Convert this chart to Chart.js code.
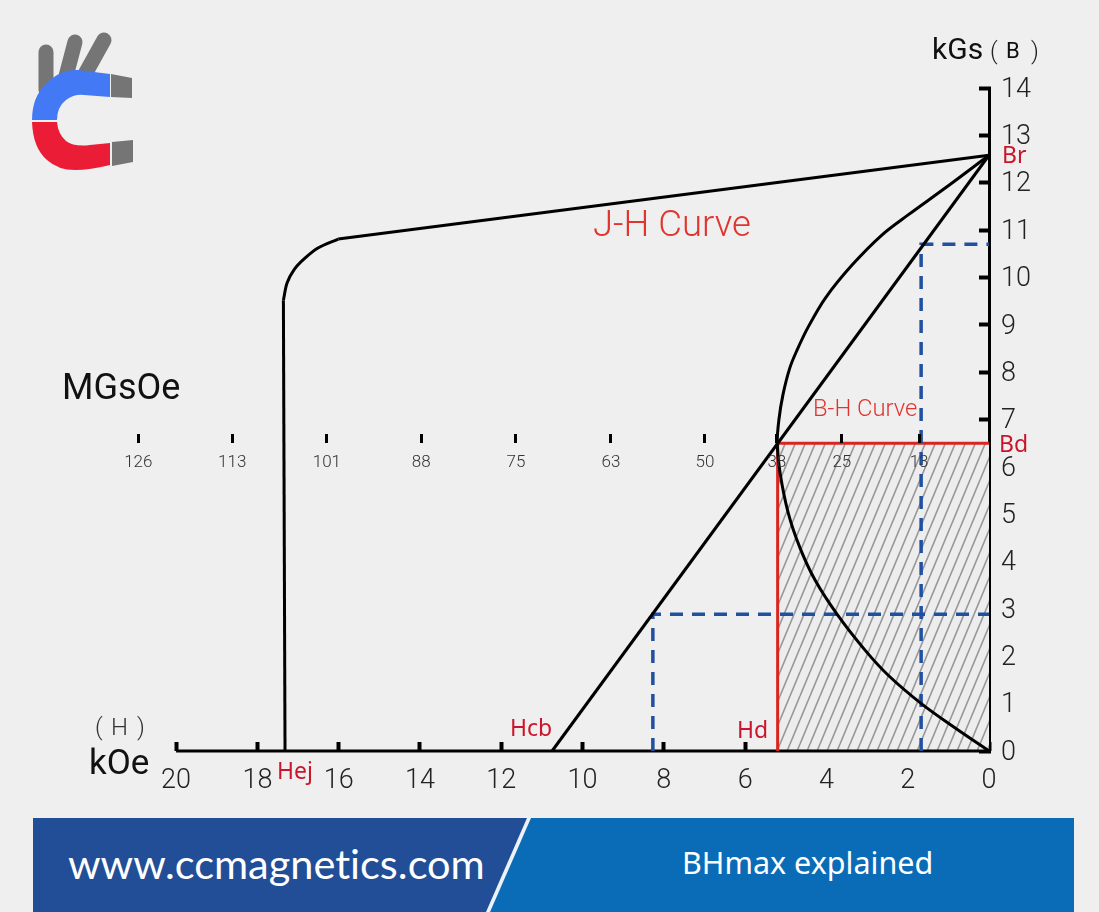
<!DOCTYPE html>
<html>
<head>
<meta charset="utf-8">
<title>BHmax explained</title>
<script src="https://cdn.jsdelivr.net/npm/chart.js@4"></script>
<style>
    html, body { margin: 0; padding: 0; background: #efefef; }
    #page { position: relative; width: 1099px; height: 912px; overflow: hidden; }
    #grafica { position: absolute; left: 0; top: 0; }
    #logo { position: absolute; left: 0; top: 0; }
    #banner { position: absolute; left: 33px; top: 818px; width: 1041px; height: 94px; background: #0a6bb6; overflow: hidden; }
    #banner .izq { position: absolute; left: 0; top: 0; width: 1041px; height: 94px; background: #214e97; clip-path: polygon(0 0, 494px 0, 453px 94px, 0 94px); }
    #banner .raya { position: absolute; left: 0; top: 0; width: 1041px; height: 94px; background: #eef2f6; clip-path: polygon(494px 0, 498px 0, 457px 94px, 453px 94px); }
    #banner .web { position: absolute; left: 35px; top: 20px; color: #fff; font: 41.5px Lato, sans-serif; font-variant-ligatures: none; white-space: nowrap; }
    #banner .tema { position: absolute; left: 649px; top: 23px; color: #fff; font: 30.5px "Noto Sans", sans-serif; white-space: nowrap; }
</style>
</head>
<body>
<div id="page">
    <canvas id="grafica" width="1099" height="912"></canvas>
    <svg id="logo" width="150" height="180" viewBox="0 0 150 180">
        <g stroke="#757575" stroke-width="15" stroke-linecap="round" fill="none">
            <line x1="46" y1="52" x2="46" y2="90"/>
            <line x1="75" y1="42" x2="65" y2="80"/>
            <line x1="104" y1="40" x2="84" y2="76"/>
        </g>
        <path d="M110 74 L78 70 Q60 69 46 84 Q32 97 32 120 L57 120 Q57 107 66 100 Q74 94 84 95 L110 97 Z" fill="#4479f6"/>
        <path d="M32 122 L57 122 Q58 134 66 141 Q74 147 90 145 L110 143 L110 165 Q90 170 75 170 Q58 170 47 160 Q33 148 32 122 Z" fill="#ea1c36"/>
        <path d="M111 74 L132 78 L132 98 L111 97 Z M112 142 L133 140 L133 162 L112 166 Z" fill="#757575"/>
    </svg>
    <div id="banner">
        <div class="izq"></div>
        <div class="raya"></div>
        <div class="web">www.ccmagnetics.com</div>
        <div class="tema">BHmax explained</div>
    </div>
</div>
<script>
// Ticks de los ejes
const ticksH = [20, 18, 16, 14, 12, 10, 8, 6, 4, 2, 0];
const ticksB = [14, 13, 12, 11, 10, 9, 8, 7, 6, 5, 4, 3, 2, 1, 0];

// Escala de energía (MGsOe): etiqueta y su posición en kOe
const etiquetasEnergia = [126, 113, 101, 88, 75, 63, 50, 38, 25, 13];
const posicionEnergia = [20.93, 18.62, 16.29, 13.97, 11.64, 9.30, 6.99, 5.22, 3.62, 1.72];

// Curva J-H: tramo vertical, codo y recta hasta Br
const jhVerticalH = [17.32, 17.36];
const jhVerticalB = [0, 9.52];
const jhCodoH = [17.36, 17.27, 17.10, 16.85, 16.51, 16.01];
const jhCodoB = [9.52, 9.88, 10.16, 10.39, 10.62, 10.81];
const jhRectaH = [16.01, 0];
const jhRectaB = [10.81, 12.58];

// Curva B-H
const bhH = [0, 1.01, 1.99, 2.63, 3.37, 4.03, 4.45, 4.72, 4.90, 5.07, 5.17, 5.21, 5.14, 4.94, 4.65, 4.28, 3.74, 3.05, 2.48, 1.65, 0.84, 0];
const bhB = [12.58, 11.93, 11.32, 10.90, 10.26, 9.56, 8.95, 8.47, 8.09, 7.52, 6.99, 6.50, 5.87, 5.03, 4.29, 3.61, 2.89, 2.13, 1.60, 0.99, 0.49, 0];

// Recta de carga, de Hcb a Br
const rectaH = [10.75, 0];
const rectaB = [0, 12.58];

// Punto de trabajo (Hd, Bd) y guías punteadas
const hd = 5.2;
const bd = 6.5;
const guiaAltaH = [1.67, 1.67, 0];
const guiaAltaB = [0, 10.7, 10.7];
const guiaBajaH = [8.27, 8.27, 0];
const guiaBajaB = [0, 2.89, 2.89];

const limiteH = 21.38;

function puntos(xs, ys) {
    return xs.map((x, i) => ({ x: x, y: ys[i] }));
}

// Patrón rayado para el área de BHmax
function crearRayado() {
    const tile = document.createElement('canvas');
    tile.width = 10;
    tile.height = 24;
    const c = tile.getContext('2d');
    c.fillStyle = '#ededed';
    c.fillRect(0, 0, 10, 24);
    c.strokeStyle = '#979797';
    c.lineWidth = 1.6;
    [-10, 0, 10].forEach(dx => {
        c.beginPath();
        c.moveTo(dx, 24);
        c.lineTo(dx + 10, 0);
        c.stroke();
    });
    return c.createPattern(tile, 'repeat');
}

function linea(data, color, ancho, extra) {
    return Object.assign({
        data: data,
        showLine: true,
        borderColor: color,
        borderWidth: ancho,
        pointRadius: 0,
        fill: false,
        clip: false
    }, extra);
}

// Textos sueltos sobre el gráfico
const textos = {
    id: 'textos',
    afterDraw(chart) {
        const ctx = chart.ctx;
        const rojo = '#c9162c';
        const lista = [
            ['kGs', 932, 51, '400 30px Roboto', '#111'],
            ['(', 990, 53, '300 24px Roboto', '#222'],
            ['B', 1006, 52, '400 22px Roboto', '#111'],
            [')', 1031, 53, '300 24px Roboto', '#222'],
            ['Br', 1002, 156, '400 23px "Noto Sans"', rojo],
            ['Bd', 999, 445, '400 23px "Noto Sans"', rojo],
            ['Hd', 737, 731, '400 23px "Noto Sans"', rojo],
            ['Hcb', 510, 729, '400 23px "Noto Sans"', rojo],
            ['Hej', 277, 772, '400 23px "Noto Sans"', rojo],
            ['J-H Curve', 593, 227, '300 36.5px Roboto', '#e2342e'],
            ['B-H Curve', 813, 410, '300 23.8px Roboto', '#e2342e'],
            ['MGsOe', 62, 390, '400 36px Roboto', '#111'],
            ['(', 95, 729, '300 24px Roboto', '#333'],
            ['H', 111, 729, '300 24px Roboto', '#333'],
            [')', 137, 729, '300 24px Roboto', '#333'],
            ['kOe', 89, 765, '400 35px Roboto', '#111']
        ];
        ctx.save();
        ctx.textAlign = 'left';
        ctx.textBaseline = 'middle';
        lista.forEach(t => {
            ctx.font = t[3];
            ctx.fillStyle = t[4];
            ctx.fillText(t[0], t[1], t[2]);
        });
        ctx.restore();
    }
};

const ctx = document.getElementById('grafica').getContext('2d');

new Chart(ctx, {
    type: 'scatter',
    plugins: [textos],
    data: {
        datasets: [
            linea(puntos(jhVerticalH, jhVerticalB), '#000', 3, { label: 'J-H vertical' }),
            linea(puntos(jhCodoH, jhCodoB), '#000', 3, { label: 'J-H codo', tension: 0.33 }),
            linea(puntos(jhRectaH, jhRectaB), '#000', 3, { label: 'J-H recta' }),
            linea(puntos(bhH, bhB), '#000', 3, { label: 'B-H Curve', tension: 0.33 }),
            linea(puntos(rectaH, rectaB), '#000', 3, { label: 'Recta' }),
            linea(puntos(guiaAltaH, guiaAltaB), '#2150a0', 3.5, { label: 'Guía alta', borderDash: [13, 9] }),
            linea(puntos(guiaBajaH, guiaBajaB), '#2150a0', 3.5, { label: 'Guía baja', borderDash: [13, 9] }),
            linea(puntos([hd, hd, 0], [0, bd, bd]), '#d9241f', 3, { label: 'Hd-Bd' }),
            linea(puntos([20, 0], [0, 0]), '#000', 3, { label: 'Eje H' }),
            linea(puntos([hd, 0], [bd, bd]), 'rgba(0,0,0,0)', 0, { label: 'BHmax', fill: 'origin', backgroundColor: crearRayado() })
        ]
    },
    options: {
        responsive: false,
        animation: false,
        layout: { padding: { left: 120, top: 88, right: 0, bottom: 0 } },
        plugins: { legend: { display: false }, tooltip: { enabled: false } },
        scales: {
            x: {
                type: 'linear',
                reverse: true,
                min: 0,
                max: limiteH,
                position: 'bottom',
                border: { display: false },
                grid: { drawOnChartArea: false, tickLength: -9, tickWidth: 4, tickColor: '#000' },
                ticks: { color: '#222', font: { size: 27, family: 'Roboto', weight: '300' }, padding: 23, autoSkip: false, maxRotation: 0 },
                afterBuildTicks: scale => { scale.ticks = ticksH.map(v => ({ value: v })); },
                afterFit: scale => { scale.height = 161; }
            },
            y: {
                type: 'linear',
                min: 0,
                max: 14,
                position: 'right',
                border: { display: true, color: '#000', width: 3 },
                grid: { drawOnChartArea: false, tickLength: -10, tickWidth: 4, tickColor: '#000' },
                ticks: { color: '#222', font: { size: 27, family: 'Roboto', weight: '300' }, padding: 22, labelOffset: 2, autoSkip: false },
                afterBuildTicks: scale => { scale.ticks = ticksB.map(v => ({ value: v })); },
                afterFit: scale => { scale.width = 110; }
            },
            xE: {
                axis: 'x',
                type: 'linear',
                reverse: true,
                min: 0,
                max: limiteH,
                position: { y: bd },
                border: { display: false },
                grid: { z: 1, drawOnChartArea: false, tickLength: -9, tickWidth: 3, tickColor: '#000' },
                ticks: {
                    z: 1,
                    color: '#333',
                    font: { size: 17, family: 'Roboto', weight: '300' },
                    padding: 18,
                    autoSkip: false,
                    maxRotation: 0,
                    callback: value => etiquetasEnergia[posicionEnergia.indexOf(value)]
                },
                afterBuildTicks: scale => { scale.ticks = posicionEnergia.map(v => ({ value: v })); }
            }
        }
    }
});
</script>
</body>
</html>
